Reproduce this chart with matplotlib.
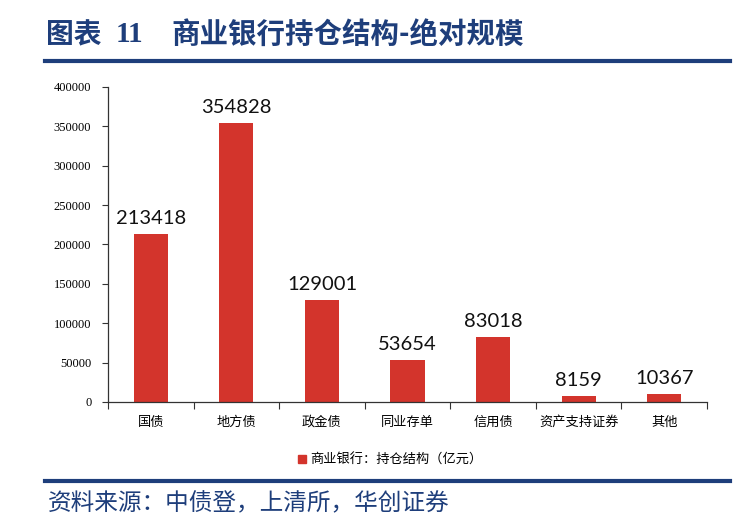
import matplotlib
matplotlib.use("Agg")
import matplotlib.pyplot as plt
from matplotlib.patches import Rectangle
from matplotlib.lines import Line2D

categories = ["国债", "地方债", "政金债", "同业存单", "信用债", "资产支持证券", "其他"]
values = [213418, 354828, 129001, 53654, 83018, 8159, 10367]
yticks = [0, 50000, 100000, 150000, 200000, 250000, 300000, 350000, 400000]
series_name = "商业银行：持仓结构（亿元）"
title_text = "图表 11    商业银行持仓结构-绝对规模"
source_text = "资料来源：中债登，上清所，华创证券"

CJK = ["Noto Sans CJK SC", "DejaVu Sans"]
plt.rcParams['font.family'] = CJK

bar_color = "#D3342C"
blue = "#1E3E7B"

fig = plt.figure(figsize=(7.36, 5.28), dpi=100)
W, H = 736, 528

ax = fig.add_axes([108 / W, 1 - 402 / H, (707 - 108) / W, (402 - 87) / H])
x = list(range(len(categories)))
ax.bar(x, values, width=0.4, color=bar_color, zorder=2)
for xi, v in zip(x, values):
    ax.annotate(f"{v}", (xi, v), xytext=(0, 5), textcoords="offset points",
                ha="center", va="bottom", fontsize=14.5, family=["Lato", "DejaVu Sans"],
                color="#111111")

ax.set_xlim(-0.5, len(categories) - 0.5)
ax.set_ylim(0, 400000)
ax.set_yticks(yticks)
ax.set_yticklabels([str(t) for t in yticks], family=["Liberation Serif"], fontsize=9)
ax.set_xticks([i - 0.5 for i in range(len(categories) + 1)], minor=False)
ax.set_xticklabels([])
ax.set_xticks(x, minor=True)
ax.set_xticklabels(categories, minor=True, fontsize=9.5)
ax.tick_params(axis="x", which="minor", length=0, pad=10)
ax.tick_params(axis="x", which="major", length=5, width=0.8, direction="out", color="#333333")
ax.tick_params(axis="y", length=4, width=0.8, direction="out", color="#333333", pad=8)
for s in ["top", "right"]:
    ax.spines[s].set_visible(False)
for s in ["left", "bottom"]:
    ax.spines[s].set_linewidth(0.9)
    ax.spines[s].set_color("#333333")

# legend
handle = Rectangle((0, 0), 1, 1, color=bar_color)
fig.legend([handle], [series_name], loc="center", bbox_to_anchor=(390 / W, 1 - 460 / H),
           frameon=False, fontsize=9.5, handlelength=0.6, handleheight=0.6, handletextpad=0.3)

# title and rules
fig.text(46 / W, 1 - 35 / H, "图表", fontsize=20, fontweight="bold", color=blue,
         va="center", ha="left")
fig.text(116 / W, 1 - 35 / H, "11", fontsize=21, fontweight="bold", color=blue,
         va="center", ha="left", family=["Liberation Serif"])
fig.text(171 / W, 1 - 35 / H, "商业银行持仓结构-绝对规模", fontsize=20.5, fontweight="bold",
         color=blue, va="center", ha="left")
fig.add_artist(Line2D([45 / W, 730 / W], [1 - 61 / H, 1 - 61 / H], color=blue, lw=3))
fig.add_artist(Line2D([45 / W, 730 / W], [1 - 481 / H, 1 - 481 / H], color=blue, lw=3))
fig.text(48 / W, 1 - 504 / H, source_text, fontsize=17, color=blue, va="center", ha="left",
         style="italic")

fig.savefig("out.png", dpi=100)
